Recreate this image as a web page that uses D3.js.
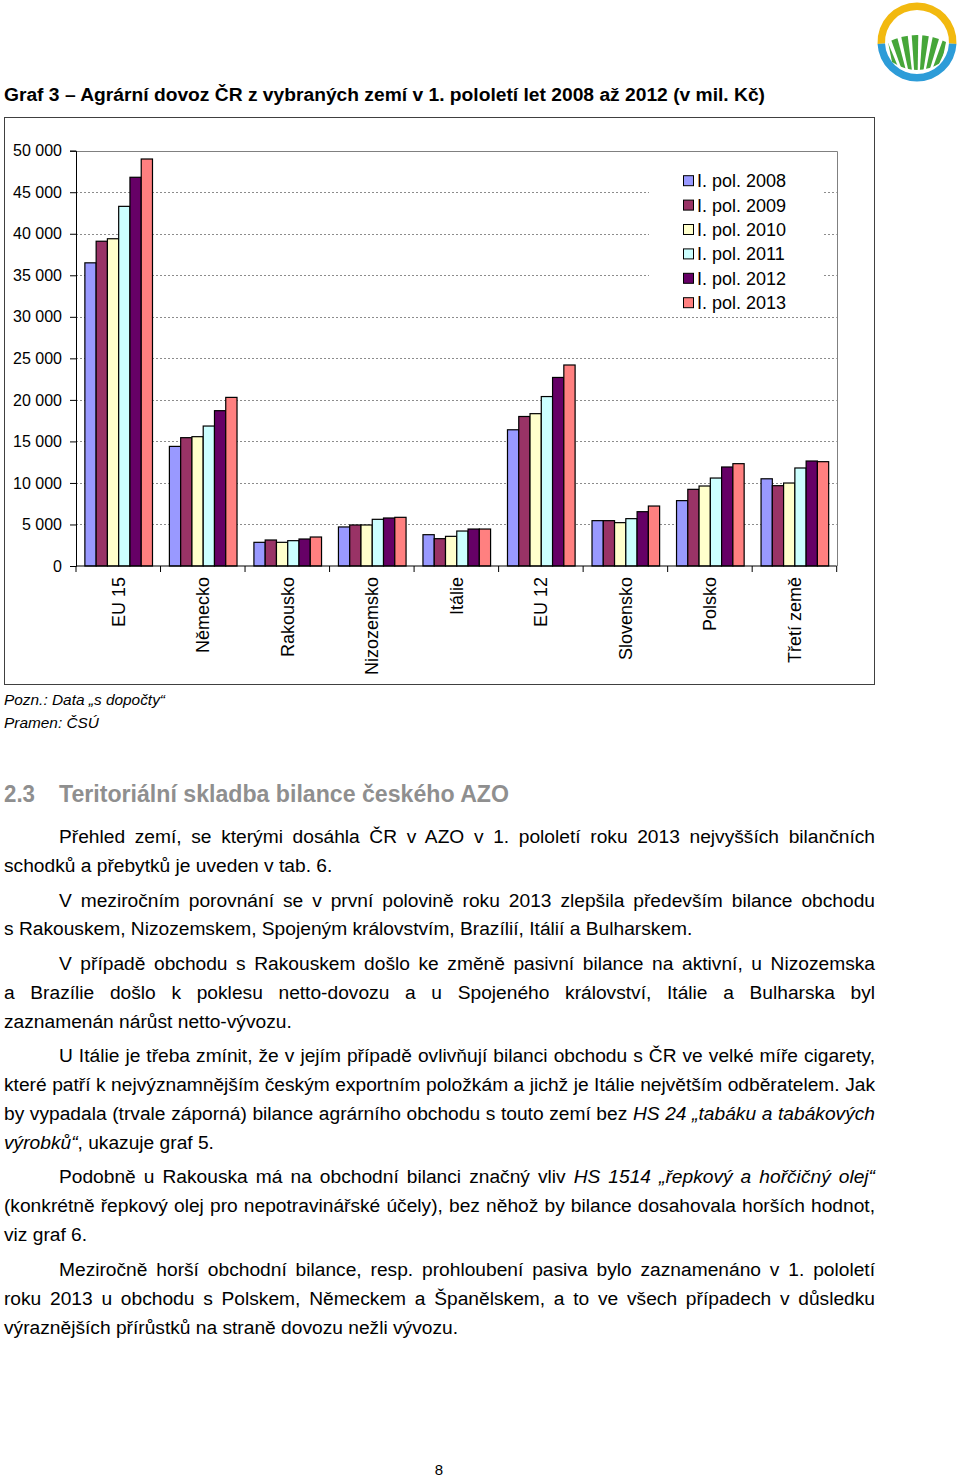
<!DOCTYPE html>
<html><head><meta charset="utf-8">
<script src="https://cdn.jsdelivr.net/npm/d3@7"></script>
<style>body{margin:0;background:#fff} svg{display:block}</style>
</head><body>
<svg id="page" width="960" height="1480"></svg>
<script>
// ---------- DATA ----------
const categories = ["EU 15","Německo","Rakousko","Nizozemsko","Itálie","EU 12","Slovensko","Polsko","Třetí země"];
const seriesNames = ["I. pol. 2008","I. pol. 2009","I. pol. 2010","I. pol. 2011","I. pol. 2012","I. pol. 2013"];
const seriesColors = ["#9999FF","#993366","#FFFFCC","#CCFFFF","#660066","#FF8080"];
const pol2008 = [36500,14400,2850,4700,3770,16400,5460,7870,10500];
const pol2009 = [39100,15450,3130,4940,3290,18000,5460,9230,9670];
const pol2010 = [39400,15570,2850,4940,3570,18340,5220,9630,9990];
const pol2011 = [43300,16850,3050,5620,4210,20400,5700,10590,11800];
const pol2012 = [46800,18700,3250,5780,4450,22700,6540,11920,12640];
const pol2013 = [49000,20300,3490,5860,4450,24200,7220,12320,12560];
const seriesValues = [pol2008,pol2009,pol2010,pol2011,pol2012,pol2013];
const yTicks = [0,5000,10000,15000,20000,25000,30000,35000,40000,45000,50000];

const chartTitle = "Graf 3 – Agrární dovoz ČR z vybraných zemí v 1. pololetí let 2008 až 2012 (v mil. Kč)";
const noteLines = ["Pozn.: Data „s dopočty“","Pramen: ČSÚ"];
const headingNum = "2.3";
const headingText = "Teritoriální skladba bilance českého AZO";
// body lines: [text segments (italic flag), indent, justified]
const bodyLines = [
  [[["Přehled zemí, se kterými dosáhla ČR v AZO v 1. pololetí roku 2013 nejvyšších bilančních",0]],1,1],
  [[["schodků a přebytků je uveden v tab. 6.",0]],0,0],
  [[["V meziročním porovnání se v první polovině roku 2013 zlepšila především bilance obchodu",0]],1,1],
  [[["s Rakouskem, Nizozemskem, Spojeným královstvím, Brazílií, Itálií a Bulharskem.",0]],0,0],
  [[["V případě obchodu s Rakouskem došlo ke změně pasivní bilance na aktivní, u Nizozemska",0]],1,1],
  [[["a Brazílie došlo k poklesu netto-dovozu a u Spojeného království, Itálie a Bulharska byl",0]],0,1],
  [[["zaznamenán nárůst netto-vývozu.",0]],0,0],
  [[["U Itálie je třeba zmínit, že v jejím případě ovlivňují bilanci obchodu s ČR ve velké míře cigarety,",0]],1,1],
  [[["které patří k nejvýznamnějším českým exportním položkám a jichž je Itálie největším odběratelem. Jak",0]],0,1],
  [[["by vypadala (trvale záporná) bilance agrárního obchodu s touto zemí bez ",0],["HS 24 „tabáku a tabákových",1]],0,1],
  [[["výrobků“",1],[", ukazuje graf 5.",0]],0,0],
  [[["Podobně u Rakouska má na obchodní bilanci značný vliv ",0],["HS 1514 „řepkový a hořčičný olej“",1]],1,1],
  [[["(konkrétně řepkový olej pro nepotravinářské účely), bez něhož by bilance dosahovala horších hodnot,",0]],0,1],
  [[["viz graf 6.",0]],0,0],
  [[["Meziročně horší obchodní bilance, resp. prohloubení pasiva bylo zaznamenáno v 1. pololetí",0]],1,1],
  [[["roku 2013 u obchodu s Polskem, Německem a Španělskem, a to ve všech případech v důsledku",0]],0,1],
  [[["výraznějších přírůstků na straně dovozu nežli vývozu.",0]],0,0]
];
const bodyCenters = [836,865,900,928,963,992,1021,1055,1084,1113,1142,1176,1205,1234,1269,1298,1327];
const pageNumber = "8";

// ---------- SETUP ----------
const svg = d3.select("#page");
const SANS = "'Liberation Sans', Arial, sans-serif";
const NARROW = "'Liberation Sans Narrow', 'Liberation Sans', Arial, sans-serif";
const loc = d3.formatLocale({decimal:",",thousands:"\u00a0",grouping:[3],currency:["","Kč"]});
const fmt = loc.format(",d");

// ---------- LOGO ----------
(function(){
  const cx = 917, cy = 42;
  const g = svg.append("g").attr("transform",`translate(${cx},${cy})`);
  const arc = d3.arc().innerRadius(32).outerRadius(39.5);
  g.append("path").attr("d",arc({startAngle:-Math.PI/2-0.05,endAngle:Math.PI/2+0.05})).attr("fill","#F2B90F");
  g.append("path").attr("d",arc({startAngle:Math.PI/2+0.05,endAngle:3*Math.PI/2-0.05})).attr("fill","#2D9CD8");
  const defs = svg.append("defs");
  defs.append("clipPath").attr("id","fieldclip").append("path")
    .attr("d","M-29,0 Q0,-14 29,0 L25,20 Q0,36 -25,20 Z");
  const fg = g.append("g").attr("clip-path","url(#fieldclip)");
  const n = 9;
  for (let i=0;i<n;i++){
    const a0 = -0.62 + i*(1.24/n), a1 = a0 + (1.24/n)*0.62;
    const vx = 0, vy = 70, L = 120;
    const p = [[vx,vy],[vx+L*Math.sin(a0),vy-L*Math.cos(a0)],[vx+L*Math.sin(a1),vy-L*Math.cos(a1)]];
    fg.append("path").attr("d","M"+p.join("L")+"Z").attr("fill","#46A639");
  }
})();

// ---------- TITLE ----------
svg.append("text").attr("x",4).attr("y",101)
  .attr("font-family",SANS).attr("font-weight","bold").attr("font-size",18)
  .attr("textLength",761).attr("lengthAdjust","spacingAndGlyphs")
  .text(chartTitle);

// ---------- CHART ----------
svg.append("rect").attr("x",4.5).attr("y",117.5).attr("width",870).attr("height",567)
  .attr("fill","#fff").attr("stroke","#404040").attr("stroke-width",1);

const plot = {left:76, right:836.7, top:150.7, bottom:566};
const x0 = d3.scaleBand().domain(categories).range([plot.left,plot.right]).padding(0);
const bw = x0.bandwidth();
const x1 = d3.scaleBand().domain(seriesNames).range([bw*0.105, bw*0.905]).padding(0);
const y = d3.scaleLinear().domain([0,50000]).range([plot.bottom,plot.top]);

// gridlines
svg.append("g").selectAll("line").data(yTicks.filter(t=>t>0 && t<50000)).join("line")
  .attr("x1",plot.left).attr("x2",plot.right)
  .attr("y1",d=>Math.round(y(d))+0.5).attr("y2",d=>Math.round(y(d))+0.5)
  .attr("stroke","#8c8c8c").attr("stroke-width",1).attr("stroke-dasharray","2,2");
// plot border top/right
svg.append("path").attr("d",`M${plot.left},${Math.round(plot.top)+0.5}H${Math.round(plot.right)+0.5}V${plot.bottom}`)
  .attr("fill","none").attr("stroke","#808080").attr("stroke-width",1);

// legend (white box behind)
const legend = svg.append("g");
legend.append("rect").attr("x",649).attr("y",164).attr("width",173).attr("height",148).attr("fill","#fff");
const legRows = legend.selectAll("g.row").data(seriesNames).join("g").attr("class","row")
  .attr("transform",(d,i)=>`translate(683,${180.7+i*24.4})`);
legRows.append("rect").attr("x",0.5).attr("y",-5).attr("width",10).attr("height",10)
  .attr("fill",(d,i)=>seriesColors[i]).attr("stroke","#000").attr("stroke-width",1);
legRows.append("text").attr("x",14).attr("y",6.5)
  .attr("font-family",SANS).attr("font-size",18).attr("fill","#000").text(d=>d);

// bars
const groups = svg.append("g").selectAll("g").data(categories).join("g")
  .attr("transform",d=>`translate(${x0(d)},0)`);
groups.selectAll("rect").data((c,ci)=>seriesNames.map((s,si)=>({s,si,v:seriesValues[si][ci]}))).join("rect")
  .attr("x",d=>x1(d.s)).attr("width",x1.bandwidth())
  .attr("y",d=>y(d.v)).attr("height",d=>y(0)-y(d.v))
  .attr("fill",d=>seriesColors[d.si]).attr("stroke","#000").attr("stroke-width",1.2);

// y axis
const yAxis = svg.append("g").attr("transform",`translate(${plot.left},0)`)
  .call(d3.axisLeft(y).tickValues(yTicks).tickSize(6).tickPadding(8).tickFormat(fmt));
yAxis.selectAll("text").attr("font-family",SANS).attr("font-size",16).attr("fill","#000");
yAxis.selectAll("line,path").attr("stroke","#000");

// x axis
const xAxisG = svg.append("g");
xAxisG.append("line").attr("x1",plot.left).attr("x2",plot.right).attr("y1",plot.bottom).attr("y2",plot.bottom)
  .attr("stroke","#000").attr("stroke-width",1.2);
const bounds = categories.map(c=>x0(c)).concat([plot.right]);
xAxisG.selectAll("line.tk").data(bounds).join("line").attr("class","tk")
  .attr("x1",d=>d).attr("x2",d=>d).attr("y1",plot.bottom).attr("y2",plot.bottom+6)
  .attr("stroke","#000");
xAxisG.selectAll("text").data(categories).join("text")
  .attr("transform",d=>`translate(${x0(d)+bw/2},${plot.bottom+11}) rotate(-90)`)
  .attr("text-anchor","end").attr("dy","0.35em")
  .attr("font-family",SANS).attr("font-size",18).attr("fill","#000").text(d=>d);

// ---------- NOTES ----------
svg.append("text").attr("x",4).attr("y",705).attr("font-family",NARROW).attr("font-style","italic")
  .attr("font-size",15).attr("textLength",161).attr("lengthAdjust","spacingAndGlyphs").text(noteLines[0]);
svg.append("text").attr("x",4).attr("y",728).attr("font-family",NARROW).attr("font-style","italic")
  .attr("font-size",15).attr("textLength",95).attr("lengthAdjust","spacingAndGlyphs").text(noteLines[1]);

// ---------- HEADING ----------
svg.append("text").attr("x",4).attr("y",802).attr("font-family",SANS).attr("font-weight","bold")
  .attr("font-size",23).attr("fill","#8f8f8f").attr("textLength",31).attr("lengthAdjust","spacingAndGlyphs").text(headingNum);
svg.append("text").attr("x",59).attr("y",802).attr("font-family",SANS).attr("font-weight","bold")
  .attr("font-size",23).attr("fill","#8f8f8f").attr("textLength",450).attr("lengthAdjust","spacingAndGlyphs").text(headingText);

// ---------- BODY ----------
const BODY_SIZE = 19;
const test = svg.append("text").attr("font-family",NARROW).attr("font-size",BODY_SIZE).text(bodyLines[3][0][0][0]);
const sx = 689 / test.node().getComputedTextLength();
test.remove();
const body = svg.append("g").attr("transform",`scale(${sx},1)`);
bodyLines.forEach((ln,i)=>{
  const [segs, indent, just] = ln;
  const X = indent ? 59 : 4;
  const t = body.append("text").attr("x",X/sx).attr("y",bodyCenters[i]+7)
    .attr("font-family",NARROW).attr("font-size",BODY_SIZE).attr("fill","#000");
  segs.forEach(([s,it])=>{
    t.append("tspan").attr("font-style",it?"italic":"normal").text(s);
  });
  if (just){
    const w = t.node().getComputedTextLength();
    const full = segs.map(s=>s[0]).join("");
    const nsp = (full.match(/ /g)||[]).length;
    const target = (875 - X)/sx;
    if (nsp>0) t.attr("word-spacing",(target-w)/nsp);
  }
});

// ---------- PAGE NUMBER ----------
svg.append("text").attr("x",439).attr("y",1475).attr("text-anchor","middle")
  .attr("font-family",SANS).attr("font-size",15).text(pageNumber);
</script>
</body></html>
